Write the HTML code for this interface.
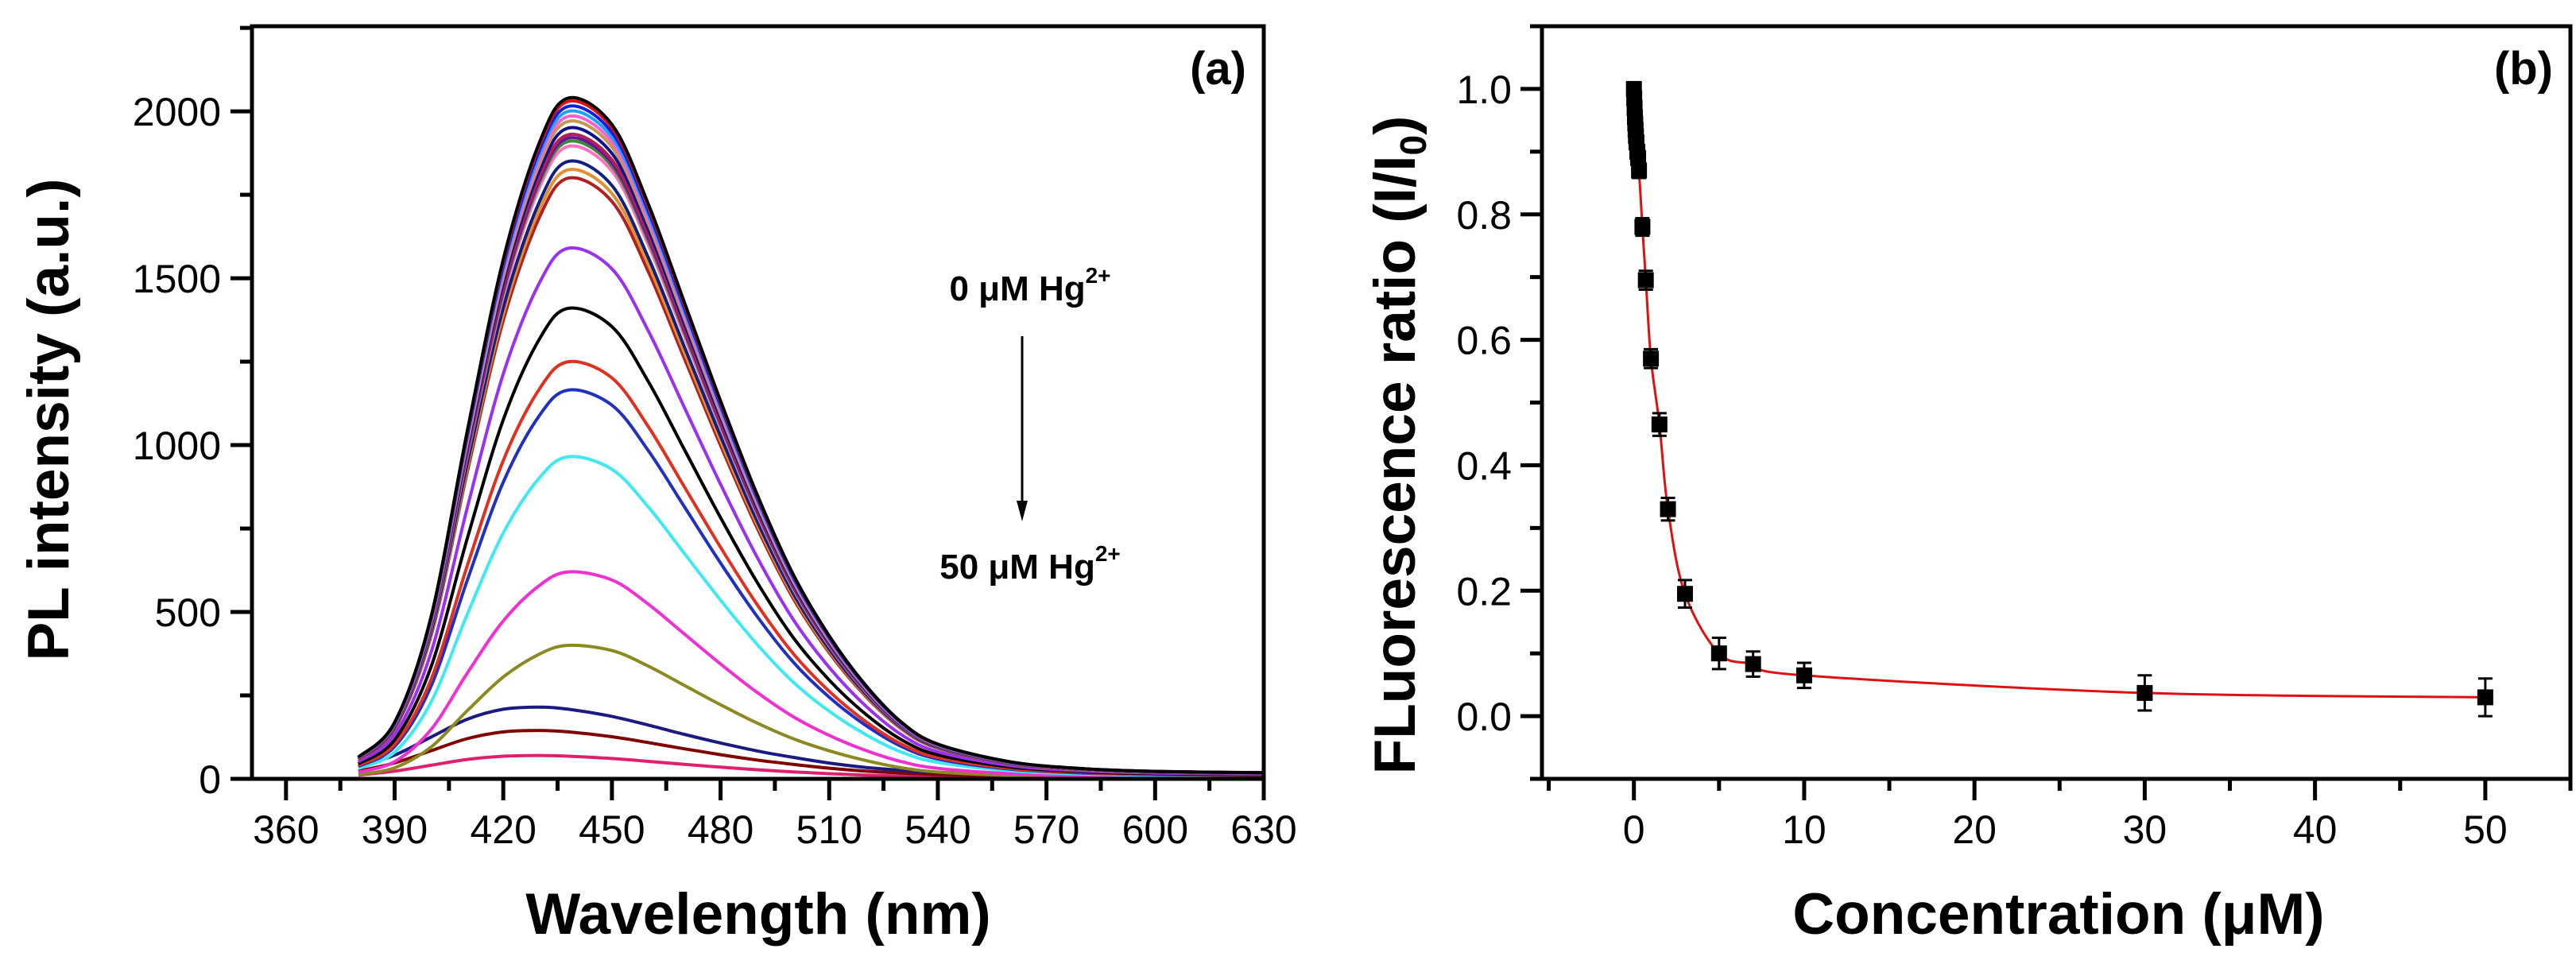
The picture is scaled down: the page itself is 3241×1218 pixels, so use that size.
<!DOCTYPE html>
<html><head><meta charset="utf-8"><style>
html,body{margin:0;padding:0;background:#fff;}
svg{display:block;font-family:"Liberation Sans",sans-serif;}
</style></head><body>
<svg id="fig" width="3241" height="1218" viewBox="0 0 3241 1218">
<g id="pa"></g>
<g id="pb"></g>
</svg>
<script>
// ---------- Panel (a) data ----------
const wavelengths = [380,390,400,410,420,430,438,450,460,470,480,490,500,510,520,530,540,560,580,600,630];
const mainShape = [0.032,0.083,0.237,0.509,0.763,0.935,1.0,0.961,0.845,0.700,0.555,0.419,0.301,0.210,0.138,0.083,0.051,0.025,0.015,0.011,0.009];
const lowShape  = [0.16,0.33,0.58,0.83,0.97,1.0,0.97,0.87,0.75,0.62,0.50,0.39,0.30,0.22,0.16,0.12,0.09,0.06,0.04,0.025,0.014];
const peakValues = [2040,2030,2015,2000,1985,1970,1950,1930,1920,1910,1895,1850,1825,1800,1590,1410,1250,1165,965,620,400,215,145,70];
const shapeKind = ["m","m","m","m","m","m","m","m","m","m","m","m","m","m","m","m","m","m","m","m","m","l","l","l"];
const seriesColors = ["#000000","#e01010","#1020e0","#20a0ff","#ff60d0","#c09a50","#101090","#b02050","#7010a0","#3a8a3a","#ff70c0","#102080","#e09030","#b02020","#9a30f0","#000000","#e03020","#2030c0","#40e8f0","#f030d0","#8a8a20","#1a1a80","#800000","#e0206e"];
const xTicksA = [360,390,420,450,480,510,540,570,600,630];
const yTicksA = [0,500,1000,1500,2000];

// ---------- Panel (b) data ----------
const concX = [0,0.02,0.04,0.06,0.08,0.1,0.12,0.15,0.2,0.25,0.3,0.5,0.7,1,1.5,2,3,5,7,10,30,50];
const ratioY = [1.0,0.985,0.97,0.955,0.945,0.935,0.925,0.915,0.9,0.89,0.87,0.78,0.695,0.57,0.465,0.33,0.195,0.10,0.083,0.065,0.037,0.03];
const ratioErr = [0.01,0.01,0.01,0.01,0.01,0.01,0.01,0.01,0.01,0.01,0.012,0.014,0.015,0.015,0.018,0.018,0.022,0.025,0.02,0.02,0.028,0.03];
const xTicksB = [0,10,20,30,40,50];
const yTicksB = [0.0,0.2,0.4,0.6,0.8,1.0];

const NS="http://www.w3.org/2000/svg";
function mk(parent,tag,attrs){const e=document.createElementNS(NS,tag);for(const k in attrs)e.setAttribute(k,attrs[k]);parent.appendChild(e);return e;}
function smooth(pts){
  let d="M"+pts[0][0].toFixed(1)+","+pts[0][1].toFixed(1);
  for(let i=0;i<pts.length-1;i++){
    const p0=pts[Math.max(0,i-1)],p1=pts[i],p2=pts[i+1],p3=pts[Math.min(pts.length-1,i+2)];
    const c1=[p1[0]+(p2[0]-p0[0])/6,p1[1]+(p2[1]-p0[1])/6];
    const c2=[p2[0]-(p3[0]-p1[0])/6,p2[1]-(p3[1]-p1[1])/6];
    d+="C"+c1[0].toFixed(1)+","+c1[1].toFixed(1)+" "+c2[0].toFixed(1)+","+c2[1].toFixed(1)+" "+p2[0].toFixed(1)+","+p2[1].toFixed(1);
  }
  return d;
}

// ---------- draw panel a ----------
const pa=document.getElementById('pa');
const A={l:317,r:1590,t:33,b:980,x0:350.6,x1:630,y0:0,y1:2255};
const xa=v=>A.l+(v-A.x0)/(A.x1-A.x0)*(A.r-A.l);
const ya=v=>A.b-(v-A.y0)/(A.y1-A.y0)*(A.b-A.t);
for(let i=peakValues.length-1;i>=0;i--){
  const sh=shapeKind[i]==="m"?mainShape:lowShape;
  const pts=wavelengths.map((w,j)=>[xa(w),ya(peakValues[i]*sh[j])]);
  const p=mk(pa,'path',{d:smooth(pts),fill:"none",stroke:seriesColors[i],"stroke-width":4,"stroke-linejoin":"round"});
  
  
}
const fa=mk(pa,'rect',{x:A.l,y:A.t,width:A.r-A.l,height:A.b-A.t,fill:"none",stroke:"#000","stroke-width":5});


for(let v=360;v<=630;v+=15){
  const major=xTicksA.includes(v);
  mk(pa,'line',{x1:xa(v),x2:xa(v),y1:A.b,y2:A.b+(major?27:15),stroke:"#000","stroke-width":5});
}
xTicksA.forEach(v=>{const t=mk(pa,'text',{x:xa(v),y:1061,"font-size":50,"text-anchor":"middle"});t.textContent=v;
  
  });
for(let v=0;v<=2250;v+=250){
  const major=yTicksA.includes(v);
  mk(pa,'line',{x1:A.l,x2:A.l-(major?27:15),y1:ya(v),y2:ya(v),stroke:"#000","stroke-width":5});
}
yTicksA.forEach(v=>{const t=mk(pa,'text',{x:278,y:ya(v)+18,"font-size":50,"text-anchor":"end"});t.textContent=v;
  
  });
</script>
<script>
// ---------- draw panel b ----------
const pb=document.getElementById('pb');
const B={l:1940,r:3234,t:33,b:980,x0:-5.4,x1:55,y0:-0.1,y1:1.1};
const xb=v=>B.l+(v-B.x0)/(B.x1-B.x0)*(B.r-B.l);
const yb=v=>B.b-(v-B.y0)/(B.y1-B.y0)*(B.b-B.t);
const fit=mk(pb,'path',{d:smooth(concX.map((c,i)=>[xb(c),yb(ratioY[i])])),fill:"none",stroke:"#e01010","stroke-width":3});


concX.forEach((c,i)=>{
  const x=xb(c),y=yb(ratioY[i]),e=ratioErr[i];
  const g=mk(pb,'g',{});
  
  
  mk(g,'line',{x1:x,x2:x,y1:yb(ratioY[i]+e),y2:yb(ratioY[i]-e),stroke:"#000","stroke-width":3});
  mk(g,'line',{x1:x-9,x2:x+9,y1:yb(ratioY[i]+e),y2:yb(ratioY[i]+e),stroke:"#000","stroke-width":3});
  mk(g,'line',{x1:x-9,x2:x+9,y1:yb(ratioY[i]-e),y2:yb(ratioY[i]-e),stroke:"#000","stroke-width":3});
  mk(g,'rect',{x:x-10,y:y-10,width:20,height:20,fill:"#000"});
});
const fb=mk(pb,'rect',{x:B.l,y:B.t,width:B.r-B.l,height:B.b-B.t,fill:"none",stroke:"#000","stroke-width":5});


for(let v=-5;v<=55;v+=5){
  const major=xTicksB.includes(v);
  mk(pb,'line',{x1:xb(v),x2:xb(v),y1:B.b,y2:B.b+(major?27:15),stroke:"#000","stroke-width":5});
}
xTicksB.forEach(v=>{const t=mk(pb,'text',{x:xb(v),y:1061,"font-size":50,"text-anchor":"middle"});t.textContent=v;
  
  });
for(let k=-1;k<=11;k++){
  const v=k/10;const major=(k%2===0&&k>=0);
  mk(pb,'line',{x1:B.l,x2:B.l-(major?27:15),y1:yb(v),y2:yb(v),stroke:"#000","stroke-width":5});
}
yTicksB.forEach(v=>{const t=mk(pb,'text',{x:1902,y:yb(v)+18,"font-size":50,"text-anchor":"end"});t.textContent=v.toFixed(1);
  
  });
</script>
<script>
const fig=document.getElementById('fig');
fig.insertAdjacentHTML('beforeend',`
<text x="954" y="1175" font-size="73" font-weight="bold" text-anchor="middle">Wavelength (nm)</text>
<text transform="translate(86,528) rotate(-90)" font-size="73" font-weight="bold" text-anchor="middle">PL intensity (a.u.)</text>
<text x="1568" y="106" font-size="58" font-weight="bold" text-anchor="end">(a)</text>
<text x="1296" y="378" font-size="44" font-weight="bold" text-anchor="middle">0 μM Hg<tspan dy="-22" font-size="28">2+</tspan></text>
<line x1="1286" y1="423" x2="1286" y2="635" stroke="#000" stroke-width="3"/>
<polygon points="1279,630 1293,630 1286,656" fill="#000"/>
<text x="1296" y="728" font-size="44" font-weight="bold" text-anchor="middle">50 μM Hg<tspan dy="-22" font-size="28">2+</tspan></text>
<text x="2590" y="1175" font-size="73" font-weight="bold" text-anchor="middle">Concentration (μM)</text>
<text transform="translate(1780,560) rotate(-90)" font-size="73" font-weight="bold" text-anchor="middle">FLuorescence ratio (I/I<tspan dy="14" font-size="46">0</tspan><tspan dy="-14">)</tspan></text>
<text x="3212" y="106" font-size="58" font-weight="bold" text-anchor="end">(b)</text>
`);
</script>
</body></html>
